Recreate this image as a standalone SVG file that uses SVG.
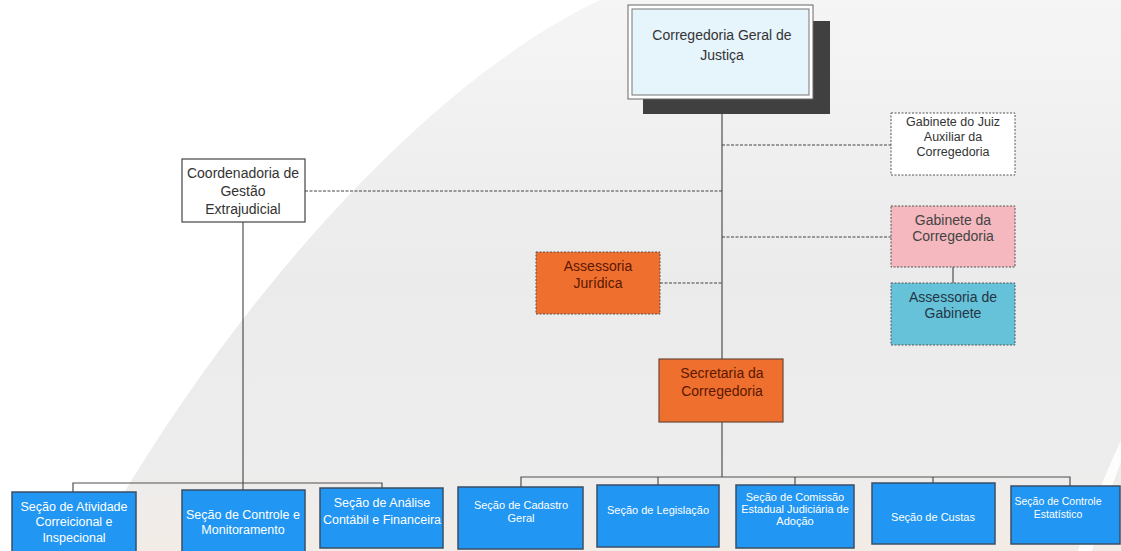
<svg xmlns="http://www.w3.org/2000/svg" width="1121" height="551" viewBox="0 0 1121 551">
<defs>
<linearGradient id="bg" x1="0" y1="0" x2="0" y2="1">
<stop offset="0" stop-color="#f5f5f5"/>
<stop offset="0.5" stop-color="#ebebeb"/>
<stop offset="0.85" stop-color="#ededed"/>
<stop offset="1" stop-color="#f3ece6"/>
</linearGradient>
<style>
text{font-family:"Liberation Sans",Arial,sans-serif;text-anchor:middle}
.t14{font-size:14px;fill:#333}
.dk{font-size:14px;fill:#5a1800}
.wt{font-size:12.5px;fill:#fff}
.ws{font-size:11px;fill:#fff}
.dash{fill:none;stroke:#444;stroke-width:1;stroke-dasharray:3 1.5}
.solid{fill:none;stroke:#505050;stroke-width:1.2}
.blue{fill:#2196f3;stroke:#3a4f66;stroke-width:1.5}
.dbox{stroke:#555;stroke-width:1;stroke-dasharray:2 1.5}
</style>
</defs>
<rect x="0" y="0" width="1121" height="551" fill="url(#bg)"/>
<path d="M0,0 L600,0 C430,80 230,300 90,551 L0,551 Z" fill="#ffffff"/>
<path d="M1121,440 C1105,475 1090,510 1078,551 L1092,551 C1102,515 1112,485 1121,462 Z" fill="#ffffff" opacity="0.85"/>

<g id="connectors">
<line class="solid" x1="722" y1="114" x2="722" y2="477"/>
<line class="dash" x1="722" y1="145" x2="891" y2="145"/>
<line class="dash" x1="305" y1="191" x2="722" y2="191"/>
<line class="dash" x1="722" y1="237" x2="891" y2="237"/>
<line class="dash" x1="660" y1="283" x2="722" y2="283"/>
<line class="solid" x1="953" y1="267" x2="953" y2="283"/>
<line class="solid" x1="243" y1="222" x2="243" y2="490"/>
<polyline class="solid" points="73,492 73,483 382,483 382,488"/>
<polyline class="solid" points="521,487 521,477 1070,477 1070,486"/>
<line class="solid" x1="658" y1="477" x2="658" y2="485"/>
<line class="solid" x1="795" y1="477" x2="795" y2="485"/>
<line class="solid" x1="933" y1="477" x2="933" y2="483"/>
</g>

<g id="corregedoria-geral">
<rect x="643" y="21" width="187" height="93" fill="#404040"/>
<rect x="628" y="5" width="185" height="94" fill="#ffffff" stroke="#666" stroke-width="1"/>
<rect x="632" y="9" width="177" height="86" fill="#e6f4fc" stroke="#777" stroke-width="1"/>
<text class="t14" x="722" y="40">Corregedoria Geral de</text>
<text class="t14" x="722" y="60">Justiça</text>
</g>

<g id="gabinete-juiz">
<rect class="dbox" x="891" y="113" width="124" height="62" fill="#ffffff"/>
<text x="953" y="126" style="font-size:12.5px;fill:#333">Gabinete do Juiz</text>
<text x="953" y="141" style="font-size:12.5px;fill:#333">Auxiliar da</text>
<text x="953" y="156" style="font-size:12.5px;fill:#333">Corregedoria</text>
</g>

<g id="coordenadoria">
<rect x="182" y="159" width="123" height="63" fill="#ffffff" stroke="#444" stroke-width="1.2"/>
<text class="t14" x="243" y="178">Coordenadoria de</text>
<text class="t14" x="243" y="196">Gestão</text>
<text class="t14" x="243" y="214">Extrajudicial</text>
</g>

<g id="gabinete-corregedoria">
<rect class="dbox" x="891" y="206" width="124" height="61" fill="#f4b8be"/>
<text class="t14" x="953" y="225" style="fill:#444">Gabinete da</text>
<text class="t14" x="953" y="241" style="fill:#444">Corregedoria</text>
</g>

<g id="assessoria-gabinete">
<rect class="dbox" x="891" y="283" width="124" height="62" fill="#66c2d8"/>
<text class="t14" x="953" y="302" style="fill:#253545">Assessoria de</text>
<text class="t14" x="953" y="318" style="fill:#253545">Gabinete</text>
</g>

<g id="assessoria-juridica">
<rect class="dbox" x="536" y="252" width="124" height="62" fill="#ef6f2e"/>
<text class="dk" x="598" y="271">Assessoria</text>
<text class="dk" x="598" y="288">Jurídica</text>
</g>

<g id="secretaria">
<rect x="659" y="359" width="124" height="63" fill="#ef6f2e" stroke="#6b4a3a" stroke-width="1.2"/>
<text class="dk" x="722" y="378">Secretaria da</text>
<text class="dk" x="722" y="396">Corregedoria</text>
</g>

<g id="secao-atividade">
<rect class="blue" x="12" y="492" width="124" height="62"/>
<text class="wt" x="74" y="511">Seção de Atividade</text>
<text class="wt" x="74" y="526">Correicional e</text>
<text class="wt" x="74" y="542">Inspecional</text>
</g>

<g id="secao-controle-monitoramento">
<rect class="blue" x="182" y="490" width="123" height="64"/>
<text class="wt" x="243" y="519">Seção de Controle e</text>
<text class="wt" x="243" y="534">Monitoramento</text>
</g>

<g id="secao-analise">
<rect class="blue" x="320" y="488" width="123" height="60"/>
<text class="wt" x="382" y="507">Seção de Análise</text>
<text class="wt" x="382" y="524">Contábil e Financeira</text>
</g>

<g id="secao-cadastro">
<rect class="blue" x="458" y="487" width="125" height="62"/>
<text class="ws" x="521" y="509">Seção de Cadastro</text>
<text class="ws" x="521" y="522">Geral</text>
</g>

<g id="secao-legislacao">
<rect class="blue" x="597" y="485" width="122" height="62"/>
<text class="ws" x="658" y="514">Seção de Legislação</text>
</g>

<g id="secao-comissao">
<rect class="blue" x="736" y="485" width="118" height="63"/>
<text class="ws" x="795" y="501">Seção de Comissão</text>
<text class="ws" x="795" y="513">Estadual Judiciária de</text>
<text class="ws" x="795" y="525">Adoção</text>
</g>

<g id="secao-custas">
<rect class="blue" x="872" y="483" width="123" height="61"/>
<text class="ws" x="933" y="521">Seção de Custas</text>
</g>

<g id="secao-estatistico">
<rect class="blue" x="1011" y="486" width="109" height="58"/>
<text x="1058" y="505" style="font-size:10.5px;fill:#fff">Seção de Controle</text>
<text x="1058" y="518" style="font-size:10.5px;fill:#fff">Estatístico</text>
</g>
</svg>
